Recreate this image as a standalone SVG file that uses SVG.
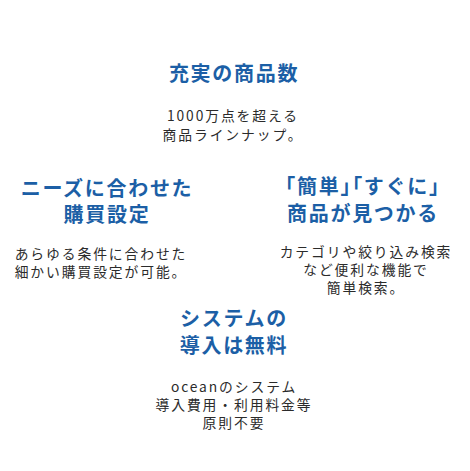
<svg xmlns="http://www.w3.org/2000/svg" width="470" height="471" viewBox="0 0 470 471">
<style>
.h{font-family:"Noto Sans CJK JP","Noto Sans",sans-serif;font-weight:bold;font-size:20px;letter-spacing:1.7px;fill:#1c5fa6;text-anchor:middle}
.b{font-family:"Noto Sans CJK JP","Noto Sans",sans-serif;font-size:13.8px;letter-spacing:1.9px;fill:#2b2b2b;text-anchor:middle}
.hb{font-feature-settings:"halt"}
</style>
<rect width="470" height="471" fill="#fff"/>
<g id="feature-1">
<text class="h" x="234" y="81">充実の商品数</text>
<text class="b" x="233" y="121">1000万点を超える</text>
<text class="b" x="233" y="140">商品ラインナップ。</text>
</g>
<g id="feature-2">
<text class="h" x="107" y="196">ニーズに合わせた</text>
<text class="h" x="107" y="222">購買設定</text>
<text class="b" x="101" y="259">あらゆる条件に合わせた</text>
<text class="b" x="101" y="277">細かい購買設定が可能。</text>
</g>
<g id="feature-3">
<text class="h" x="363" y="194"><tspan class="hb">「</tspan>簡単<tspan class="hb">」「</tspan>すぐに<tspan class="hb">」</tspan></text>
<text class="h" x="363" y="221">商品が見つかる</text>
<text class="b" x="366" y="257">カテゴリや絞り込み検索</text>
<text class="b" x="366" y="275">など便利な機能で</text>
<text class="b" x="366" y="293">簡単検索。</text>
</g>
<g id="feature-4">
<text class="h" x="234" y="326">システムの</text>
<text class="h" x="234" y="353">導入は無料</text>
<text class="b" x="234" y="392">oceanのシステム</text>
<text class="b" x="234" y="410">導入費用・利用料金等</text>
<text class="b" x="234" y="428">原則不要</text>
</g>
<g id="connectors"></g>
</svg>
